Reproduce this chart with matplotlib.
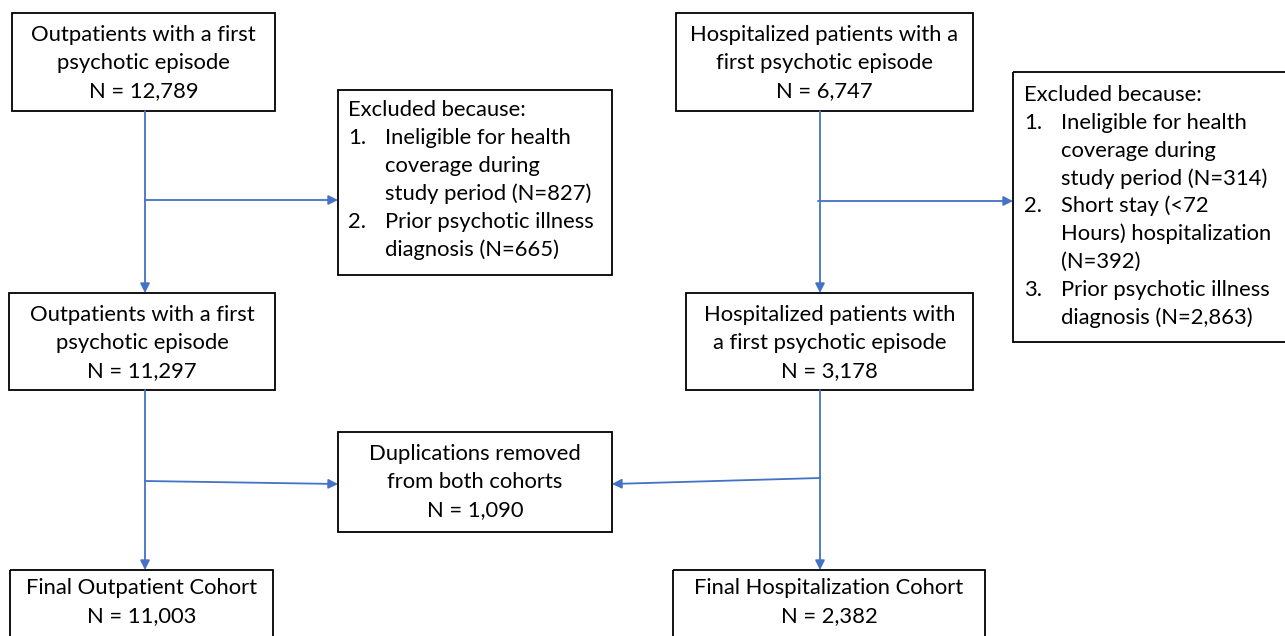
import matplotlib.pyplot as plt
from matplotlib.patches import Rectangle

plt.rcParams['font.family'] = ['Lato', 'DejaVu Sans']

ARROW = "#4472C4"
FS = 15.8

# cohort counts
outpatient_n = [12789, 11297, 11003]
hospital_n = [6747, 3178, 2382]
duplicates_n = 1090
excl_out = [827, 665]
excl_hosp = [314, 392, 2863]

out_titles = ["Outpatients with a first\npsychotic episode",
              "Outpatients with a first\npsychotic episode",
              "Final Outpatient Cohort"]
hosp_titles = ["Hospitalized patients with a\nfirst psychotic episode",
               "Hospitalized patients with\na first psychotic episode",
               "Final Hospitalization Cohort"]

fig = plt.figure(figsize=(12.85, 6.36), dpi=100)
ax = fig.add_axes([0, 0, 1, 1])
ax.set_xlim(0, 1285)
ax.set_ylim(636, 0)
ax.axis("off")


def box(x0, y0, x1, y1):
    ax.add_patch(Rectangle((x0, y0), x1 - x0, y1 - y0, fill=False,
                           edgecolor="black", lw=1.3))


def centered(cx, y_first, lines, step=28):
    for i, s in enumerate(lines):
        ax.text(cx, y_first + i * step, s, ha="center", va="center", fontsize=FS)


def arrow(x0, y0, x1, y1):
    ax.annotate("", xy=(x1, y1), xytext=(x0, y0),
                arrowprops=dict(arrowstyle="-|>", color=ARROW, lw=1.3,
                                mutation_scale=14, shrinkA=0, shrinkB=0))


def fmt(n):
    return f"N = {n:,}"


# outpatient column
out_boxes = [(12, 13, 275, 111), (9, 293, 275, 390), (10, 570, 273, 650)]
out_y = [35, 315, 588]
for (b, t, n, y) in zip(out_boxes, out_titles, outpatient_n, out_y):
    box(*b)
    centered((b[0] + b[2]) / 2, y, t.split("\n") + [fmt(n)])

# hospital column
hosp_boxes = [(676, 13, 973, 111), (686, 293, 973, 390), (673, 570, 985, 650)]
hosp_y = [35, 315, 588]
for (b, t, n, y) in zip(hosp_boxes, hosp_titles, hospital_n, hosp_y):
    box(*b)
    centered((b[0] + b[2]) / 2, y, t.split("\n") + [fmt(n)])

# duplications box
box(338, 432, 612, 532)
centered(475, 454, ["Duplications removed", "from both cohorts", fmt(duplicates_n)])

# exclusion box, outpatients
box(338, 90, 612, 275)
ex1 = [("", "Excluded because:"),
       ("1.", "Ineligible for health"),
       ("", "coverage during"),
       ("", f"study period (N={excl_out[0]:,})"),
       ("2.", "Prior psychotic illness"),
       ("", f"diagnosis (N={excl_out[1]:,})")]
for i, (num, s) in enumerate(ex1):
    y = 110 + i * 28
    if num:
        ax.text(348, y, num, ha="left", va="center", fontsize=FS)
        ax.text(385, y, s, ha="left", va="center", fontsize=FS)
    else:
        ax.text(385 if i > 0 else 348, y, s, ha="left", va="center", fontsize=FS)

# exclusion box, hospital
box(1013, 72, 1290, 342)
ex2 = [("", "Excluded because:"),
       ("1.", "Ineligible for health"),
       ("", "coverage during"),
       ("", f"study period (N={excl_hosp[0]:,})"),
       ("2.", "Short stay (<72"),
       ("", "Hours) hospitalization"),
       ("", f"(N={excl_hosp[1]:,})"),
       ("3.", "Prior psychotic illness"),
       ("", f"diagnosis (N={excl_hosp[2]:,})")]
for i, (num, s) in enumerate(ex2):
    y = 95 + i * 27.8
    if num:
        ax.text(1024, y, num, ha="left", va="center", fontsize=FS)
        ax.text(1061, y, s, ha="left", va="center", fontsize=FS)
    else:
        ax.text(1061 if i > 0 else 1024, y, s, ha="left", va="center", fontsize=FS)

# arrows
arrow(145, 111, 145, 293)
arrow(145, 200, 338, 200)
arrow(145, 390, 145, 570)
arrow(145, 481, 338, 484)

arrow(820, 111, 820, 293)
arrow(818, 201, 1013, 201)
arrow(820, 390, 820, 570)
arrow(820, 478, 612, 484)

fig.savefig("out.png", dpi=100)
